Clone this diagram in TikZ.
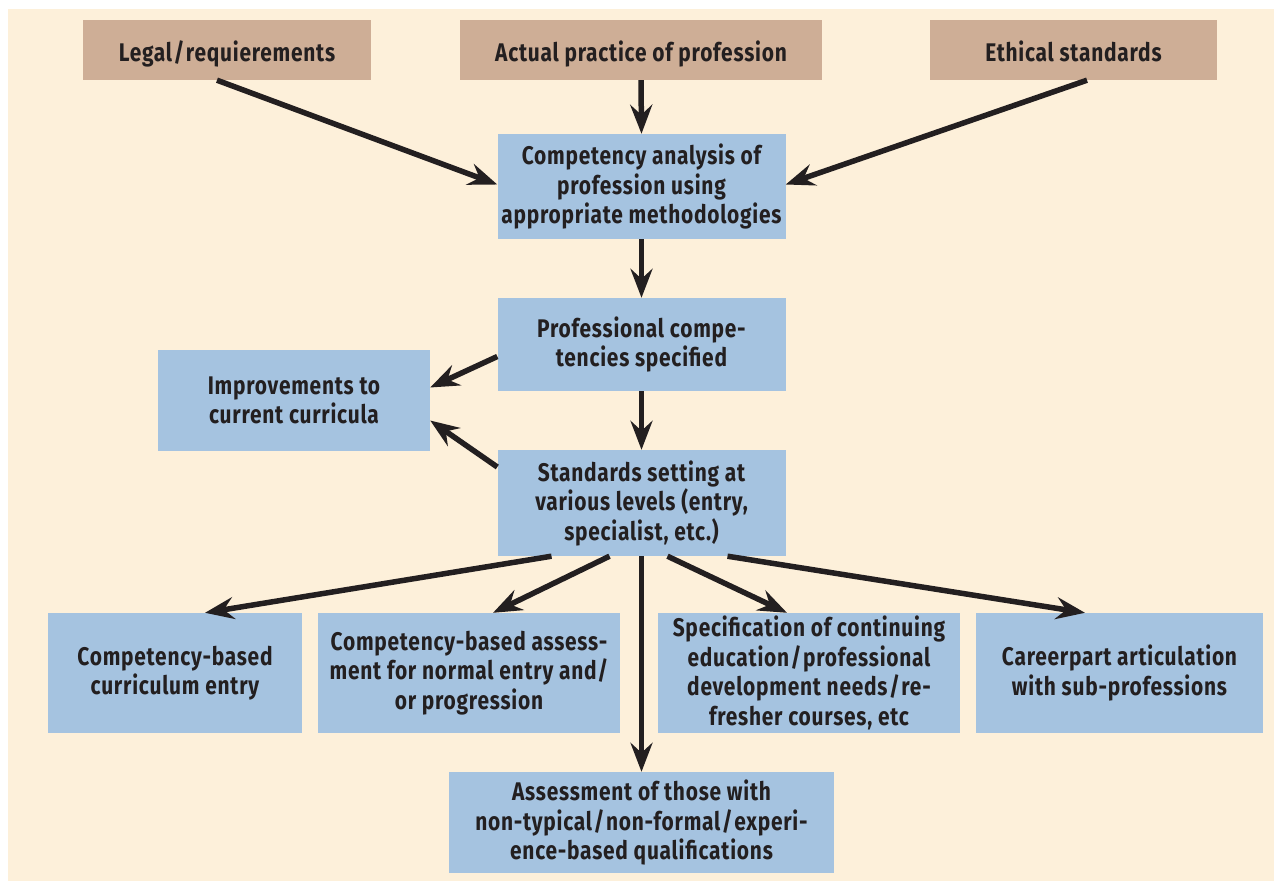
\documentclass[tikz,border=0pt]{standalone}
\usepackage{fontspec}
\setmainfont{Fira Sans}[FakeStretch=0.82, LetterSpace=3]
\usetikzlibrary{arrows.meta}
\definecolor{bgc}{HTML}{FDF0DA}
\definecolor{tanc}{HTML}{CEAE96}
\definecolor{bluec}{HTML}{A5C3E0}
\definecolor{inkc}{HTML}{231F20}
\newcommand\slsh{\kern1.5pt/\kern1.5pt}
\tikzset{
  box/.style={rectangle, inner sep=0pt, align=center, text=inkc,
    font=\fontsize{25.5}{29.5}\selectfont\bfseries},
  topbox/.style={box, fill=tanc, text height=22pt, text depth=0pt},
  bluebox/.style={box, fill=bluec},
  conn/.style={draw=inkc, line width=5.5pt,
    -{Stealth[length=29pt, width=22pt, inset=10pt]}},
}
\begin{document}
\begin{tikzpicture}[x=1pt, y=-1pt]
\useasboundingbox (0,0) rectangle (1274,881);
\fill[bgc] (8,9) rectangle (1274,881);

\node[topbox, minimum width=288, minimum height=60] (legal) at (227,50) {Legal\slsh requierements};
\node[topbox, minimum width=362, minimum height=60] (actual) at (641,50) {Actual practice of profession};
\node[topbox, minimum width=287, minimum height=60] (ethical) at (1073.5,50) {Ethical standards};

\node[bluebox, minimum width=288, minimum height=105] (ca) at (641.5,186.5) {Competency analysis of\\profession using\\appropriate methodologies};
\node[bluebox, minimum width=288, minimum height=93] (prof) at (641.5,344.5) {Professional compe-\\tencies specified};
\node[bluebox, minimum width=272, minimum height=101] (impr) at (294,400.5) {Improvements to\\current curricula};
\node[bluebox, minimum width=288, minimum height=106] (std) at (641.5,503) {Standards setting at\\various levels (entry,\\specialist, etc.)};

\node[bluebox, minimum width=254, minimum height=120] (b1) at (175,673) {Competency-based\\curriculum entry};
\node[bluebox, minimum width=302, minimum height=120] (b2) at (469,673) {Competency-based assess-\\ment for normal entry and/\\or progression};
\node[bluebox, minimum width=302, minimum height=120] (b3) at (809,673) {Specification of continuing\\education\slsh professional\\development needs\slsh re-\\fresher courses, etc};
\node[bluebox, minimum width=287, minimum height=120] (b4) at (1119.5,673) {Careerpart articulation\\with sub-professions};
\node[bluebox, minimum width=385, minimum height=101] (asm) at (641.5,822.5) {Assessment of those with\\non-typical\slsh non-formal\slsh experi-\\ence-based qualifications};

\draw[conn] ([xshift=-10pt]legal.south) -- ([yshift=2pt]ca.west);
\draw[conn] (actual.south) -- (ca.north);
\draw[conn] ([xshift=13.5pt]ethical.south) -- ([yshift=2pt]ca.east);
\draw[conn] (ca.south) -- (prof.north);
\draw[conn] (prof.south) -- (std.north);
\draw[conn] ([yshift=-12pt]prof.west) -- ([yshift=13pt]impr.east);
\draw[conn] ([yshift=36pt]std.west) -- ([yshift=-20pt]impr.east);
\draw[conn] ([xshift=-90pt]std.south) -- ([xshift=30pt]b1.north);
\draw[conn] ([xshift=-32pt]std.south) -- ([xshift=24pt]b2.north);
\draw[conn] (std.south) -- (asm.north);
\draw[conn] ([xshift=26pt]std.south) -- ([xshift=-22pt]b3.north);
\draw[conn] ([xshift=86pt]std.south) -- ([xshift=-34.5pt]b4.north);
\end{tikzpicture}
\end{document}
